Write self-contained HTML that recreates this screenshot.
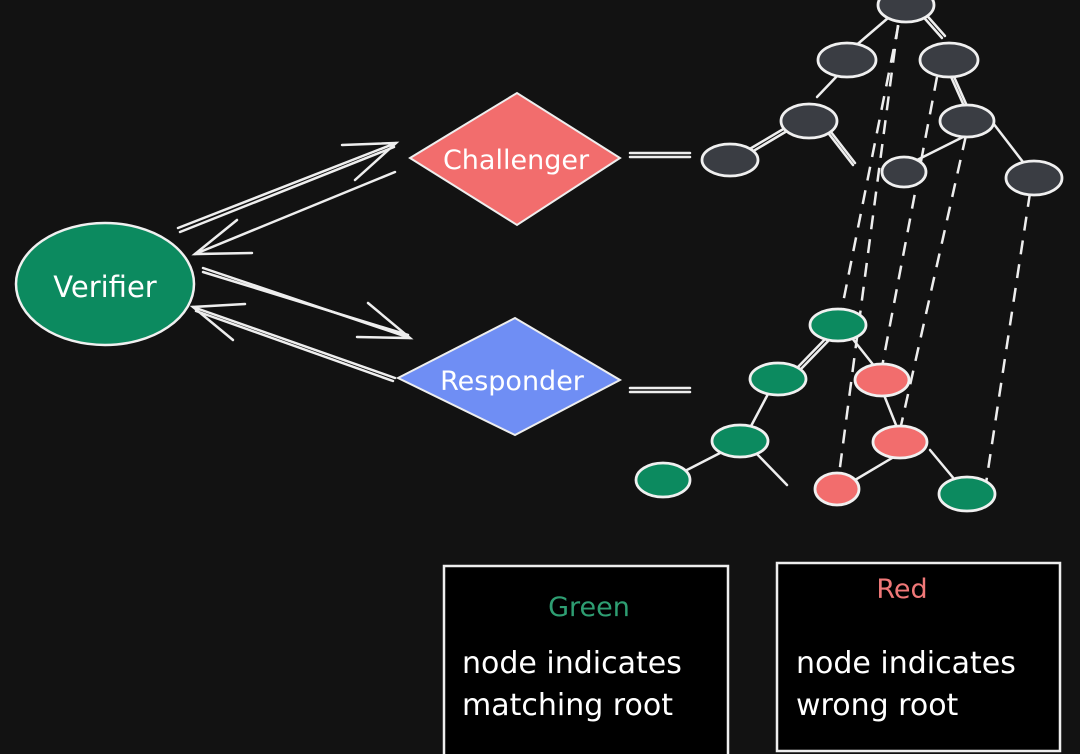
<!DOCTYPE html>
<html><head><meta charset="utf-8"><style>
html,body{margin:0;padding:0;background:#121212;}
svg{display:block}
text{font-family:"DejaVu Sans","Liberation Sans",sans-serif;}
</style></head><body>
<svg width="1080" height="754" viewBox="0 0 1080 754" xmlns="http://www.w3.org/2000/svg">
<rect width="1080" height="754" fill="#121212"/>
<g stroke="#eeeeee" stroke-width="2.5" fill="none" stroke-linecap="round">
<line x1="178" y1="228" x2="396" y2="143"/><line x1="180" y1="232" x2="394" y2="147"/>
<polyline points="342,145 396,143 355,180"/>
<line x1="395" y1="172" x2="195" y2="254"/>
<polyline points="237,220 195,254 252,253"/>
<line x1="203" y1="268" x2="410" y2="338"/><line x1="203" y1="272" x2="408" y2="335"/>
<polyline points="368,303 410,338 357,337"/>
<line x1="395" y1="378" x2="193" y2="307"/><line x1="393" y1="381" x2="196" y2="311"/>
<polyline points="245,304 193,307 233,340"/>
<line x1="630" y1="153" x2="690" y2="153"/><line x1="630" y1="157" x2="690" y2="157"/>
<line x1="630" y1="388" x2="690" y2="388"/><line x1="630" y1="392" x2="690" y2="392"/>
<line x1="888" y1="18" x2="853" y2="48"/>
<line x1="919" y1="12" x2="942" y2="38"/><line x1="922" y1="10" x2="945" y2="36"/>
<line x1="838" y1="75" x2="817" y2="97"/>
<line x1="785" y1="128" x2="748" y2="150"/><line x1="787" y1="131" x2="750" y2="153"/>
<line x1="822" y1="125" x2="853" y2="165"/><line x1="824" y1="123" x2="855" y2="163"/>
<line x1="948" y1="70" x2="968" y2="115"/><line x1="951" y1="70" x2="971" y2="115"/>
<line x1="965" y1="136" x2="917" y2="160"/>
<line x1="993" y1="123" x2="1023" y2="162"/>
<line x1="830" y1="334" x2="797" y2="368"/><line x1="833" y1="336" x2="800" y2="370"/>
<line x1="852" y1="338" x2="875" y2="367"/>
<line x1="768" y1="394" x2="750" y2="428"/>
<line x1="722" y1="452" x2="683" y2="472"/>
<line x1="755" y1="452" x2="787" y2="485"/>
<line x1="882" y1="390" x2="900" y2="435"/>
<line x1="897" y1="455" x2="855" y2="480"/>
<line x1="930" y1="450" x2="955" y2="480"/>
</g>
<g stroke="#eeeeee" stroke-width="2.5" stroke-dasharray="14,10" fill="none">
<line x1="903" y1="2" x2="840" y2="318"/>
<line x1="898" y1="25" x2="837" y2="490"/>
<line x1="937" y1="77" x2="882" y2="367"/>
<line x1="971" y1="113" x2="900" y2="430"/>
<line x1="1030" y1="193" x2="985" y2="490"/>
</g>
<ellipse cx="105" cy="284" rx="89" ry="61" fill="#0c8a5f" stroke="#f0f0f0" stroke-width="2.5"/>
<text x="105" y="297" font-size="29" fill="#fff" text-anchor="middle">Verifier</text>
<polygon points="410,158 517,93 620,158 517,225" fill="#f26d6d" stroke="#eee" stroke-width="2"/>
<text x="516" y="169" font-size="27" fill="#fff" text-anchor="middle">Challenger</text>
<polygon points="398,378 515,318 620,380 515,435" fill="#6f8ef4" stroke="#eee" stroke-width="2"/>
<text x="512" y="390" font-size="27" fill="#fff" text-anchor="middle">Responder</text>
<g fill="#3a3d43" stroke="#f0f0f0" stroke-width="2.8">
<ellipse cx="906" cy="5" rx="28" ry="17"/>
<ellipse cx="847" cy="60" rx="29" ry="17"/>
<ellipse cx="949" cy="60" rx="29" ry="17"/>
<ellipse cx="809" cy="121" rx="28" ry="17"/>
<ellipse cx="967" cy="121" rx="27" ry="16"/>
<ellipse cx="730" cy="160" rx="28" ry="16"/>
<ellipse cx="904" cy="172" rx="22" ry="15"/>
<ellipse cx="1034" cy="178" rx="28" ry="17"/>
</g>
<g stroke="#f0f0f0" stroke-width="2.8">
<ellipse cx="838" cy="325" rx="28" ry="16" fill="#0c8a5f"/>
<ellipse cx="778" cy="379" rx="28" ry="16" fill="#0c8a5f"/>
<ellipse cx="882" cy="380" rx="27" ry="16" fill="#f26d6d"/>
<ellipse cx="740" cy="441" rx="28" ry="16" fill="#0c8a5f"/>
<ellipse cx="900" cy="442" rx="27" ry="16" fill="#f26d6d"/>
<ellipse cx="663" cy="480" rx="27" ry="17" fill="#0c8a5f"/>
<ellipse cx="837" cy="489" rx="22" ry="16" fill="#f26d6d"/>
<ellipse cx="967" cy="494" rx="28" ry="17" fill="#0c8a5f"/>
</g>
<rect x="444" y="566" width="284" height="195" fill="#000" stroke="#eee" stroke-width="2.5"/>
<rect x="777" y="563" width="283" height="188" fill="#000" stroke="#eee" stroke-width="2.5"/>
<text x="589" y="616" font-size="27" fill="#2e9e72" text-anchor="middle">Green</text>
<text x="462" y="673" font-size="30" fill="#fff">node indicates</text>
<text x="462" y="715" font-size="30" fill="#fff">matching root</text>
<text x="902" y="598" font-size="27" fill="#f07878" text-anchor="middle">Red</text>
<text x="796" y="673" font-size="30" fill="#fff">node indicates</text>
<text x="796" y="715" font-size="30" fill="#fff">wrong root</text>
</svg>
</body></html>
